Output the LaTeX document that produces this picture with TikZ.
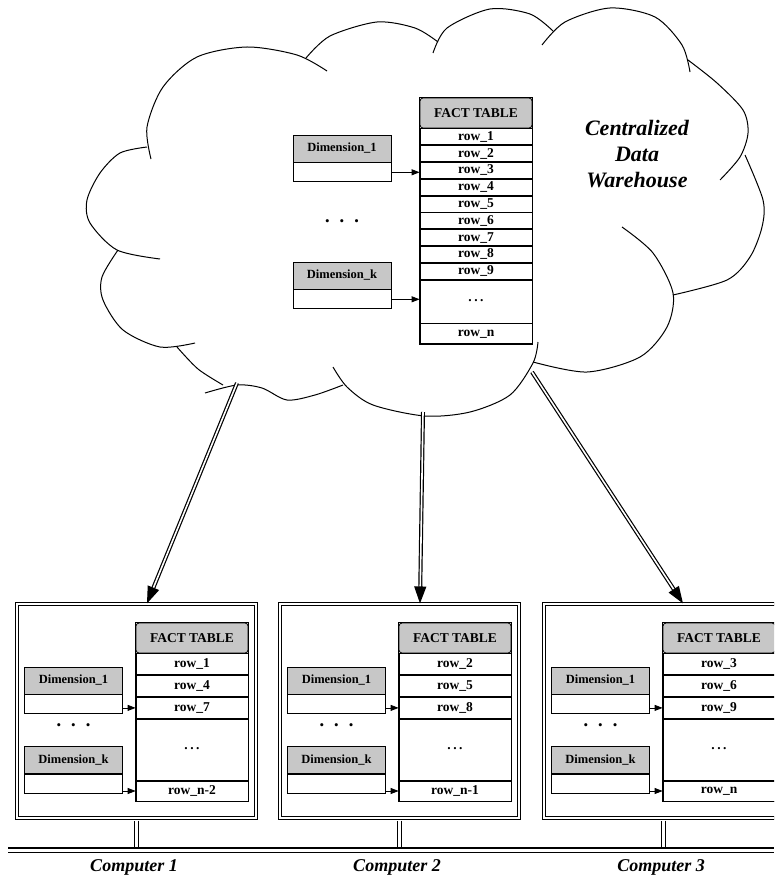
\documentclass[tikz,border=0pt]{standalone}
\usepackage{fontspec}
\setmainfont{Liberation Serif}
\usetikzlibrary{positioning,arrows.meta}

\newcommand{\puntitos}{\raisebox{3pt}{.\hspace{2.5pt}.\hspace{2.5pt}.}}

\begin{document}
\begin{tikzpicture}[
  x=1pt, y=-1pt,
  nube/.style={line width=1pt},
  cabecera/.style={draw, line width=0.8pt, rounded corners=3pt, fill=black!22, minimum width=112pt, minimum height=30pt, inner sep=0pt, font=\fontsize{13.5}{15}\selectfont\bfseries},
  fila/.style={draw, line width=0.8pt, minimum width=112pt, minimum height=16pt, inner sep=0pt, font=\fontsize{13.5}{14}\selectfont\bfseries},
  dimcab/.style={draw, line width=0.8pt, fill=black!22, minimum width=98pt, minimum height=27pt, inner sep=0pt, font=\fontsize{12.5}{13}\selectfont\bfseries},
  dimcuerpo/.style={draw, line width=0.8pt, minimum width=98pt, minimum height=19pt, inner sep=0pt},
  puntos/.style={font=\fontsize{13}{14}\selectfont},
  flecha/.style={-{Triangle[length=8pt,width=6pt]}, line width=0.8pt},
  gruesa/.style={-{Triangle[length=17pt,width=12pt]}, double, double distance=1.6pt, line width=1.2pt},
  caja/.style={draw, double, double distance=2pt, line width=1.1pt, minimum width=239.5pt, minimum height=214pt},
  enlace/.style={double, double distance=2.5pt, line width=1pt},
  bus/.style={double, double distance=3pt, line width=1.4pt},
  etiqueta/.style={font=\fontsize{18}{20}\selectfont\bfseries\itshape},
  titulo/.style={align=center, font=\fontsize{22}{26}\selectfont\bfseries\itshape}
]
  \useasboundingbox (0,0) rectangle (774,888);
  \clip (0,0) rectangle (774,888);

  % nube
  \draw[nube] plot[smooth] coordinates {(151,159) (147,127) (163,87) (197,57) (247,47) (297,55) (327,71)};
  \draw[nube] plot[smooth] coordinates {(306,58) (330,36) (377,22) (415,28) (438,42)};
  \draw[nube] plot[smooth] coordinates {(433,53) (447,28) (490,9) (530,14) (553,31)};
  \draw[nube] plot[smooth] coordinates {(542,45) (565,22) (610,8) (655,17) (682,45) (690,72)};
  \draw[nube] plot[smooth] coordinates {(688,60) (717,83) (743,110) (748,133) (740,157) (720,180)};
  \draw[nube] plot[smooth] coordinates {(745,155) (763,200) (762,227) (750,257) (727,280) (673,295)};
  \draw[nube] plot[smooth] coordinates {(622,227) (653,253) (673,293) (667,327) (640,357) (587,372) (533,362)};
  \draw[nube] plot[smooth] coordinates {(538,342) (533,363) (510,395) (470,412) (425,416) (373,405) (347,387) (333,367)};
  \draw[nube] plot[smooth] coordinates {(343,385) (315,395) (287,400) (262,388) (237,385) (205,393)};
  \draw[nube] plot[smooth] coordinates {(223,385) (198,369) (177,347)};
  \draw[nube] plot[smooth] coordinates {(195,343) (160,347) (123,330) (103,300) (102,277) (118,250)};
  \draw[nube] plot[smooth] coordinates {(160,259) (117,250) (90,223) (87,200) (100,173) (120,153) (147,147)};

  % tabla central
  \node[cabecera] (ft) at (476,113) {FACT TABLE};
  \node[fila, below=0pt of ft] (r1) {row\_1};
  \foreach \k [remember=\k as \j (initially 1)] in {2,...,9}
    \node[fila, below=0pt of r\j] (r\k) {row\_\k};
  \node[fila, minimum height=43pt, below=0pt of r9] (rd) {\puntitos};
  \node[fila, minimum height=20pt, below=0pt of rd] (rn) {row\_n};
  \draw[line width=0.8pt] (ft.north west) rectangle (rn.south east);

  \node[dimcab] (d1) at (342,148.5) {Dimension\_1};
  \node[dimcuerpo, below=0pt of d1] (d1b) {};
  \node[puntos] (pts) at (342,223) {\textbullet\hspace{10pt}\textbullet\hspace{10pt}\textbullet};
  \node[dimcab] (dk) at (342,275.5) {Dimension\_k};
  \node[dimcuerpo, below=0pt of dk] (dkb) {};
  \draw[flecha] (d1b.east) -- (d1b.east -| ft.west);
  \draw[flecha] (dkb.east) -- (dkb.east -| ft.west);

  \node[titulo] (cdw) at (637,154) {Centralized\\Data\\Warehouse};

  % computadoras
  \foreach \i/\dx/\ra/\rb/\rc/\rz in {1/0/1/4/7/n-2, 2/263/2/5/8/n-1, 3/527/3/6/9/n} {
    \draw[enlace] ([yshift=-2.5pt]136.5+\dx,818) -- (136.5+\dx,850);
    \node[caja] (pc\i) at (136.5+\dx,711) {};
    \node[cabecera] (ft\i) at (192+\dx,638) {FACT TABLE};
    \node[fila, minimum height=21pt, below=0pt of ft\i] (fa\i) {row\_\ra};
    \node[fila, minimum height=21pt, below=0pt of fa\i] (fb\i) {row\_\rb};
    \node[fila, minimum height=21pt, below=0pt of fb\i] (fc\i) {row\_\rc};
    \node[fila, minimum height=61pt, below=0pt of fc\i] (fd\i) {\puntitos};
    \node[fila, minimum height=20pt, below=0pt of fd\i] (fz\i) {row\_\rz};
    \draw[line width=0.8pt] (ft\i.north west) rectangle (fz\i.south east);
    \node[dimcab] (da\i) at (73.5+\dx,680.5) {Dimension\_1};
    \node[dimcuerpo, below=0pt of da\i] (dab\i) {};
    \node[puntos] (pts\i) at (73.5+\dx,727) {\textbullet\hspace{10pt}\textbullet\hspace{10pt}\textbullet};
    \node[dimcab] (dk\i) at (73.5+\dx,760) {Dimension\_k};
    \node[dimcuerpo, below=0pt of dk\i] (dkb\i) {};
    \draw[flecha] (fc\i.west -| dab\i.east) -- (fc\i.west);
    \draw[flecha] (fz\i.west -| dkb\i.east) -- (fz\i.west);
    \node[etiqueta] (lab\i) at (134+\dx,867) {Computer \i};
  }

  % bus
  \coordinate (bi) at (8,850);
  \coordinate (bd) at (774,850);
  \draw[bus] (bi) -- (bd);

  % flechas desde la nube
  \coordinate (s1) at (237,383);
  \coordinate (s2) at (423,412);
  \coordinate (s3) at (532,372);
  \draw[gruesa] (s1) -- ([xshift=10.5pt]pc1.north);
  \draw[gruesa] (s2) -- ([xshift=20.5pt]pc2.north);
  \draw[gruesa] (s3) -- ([xshift=19.5pt]pc3.north);
\end{tikzpicture}
\end{document}
